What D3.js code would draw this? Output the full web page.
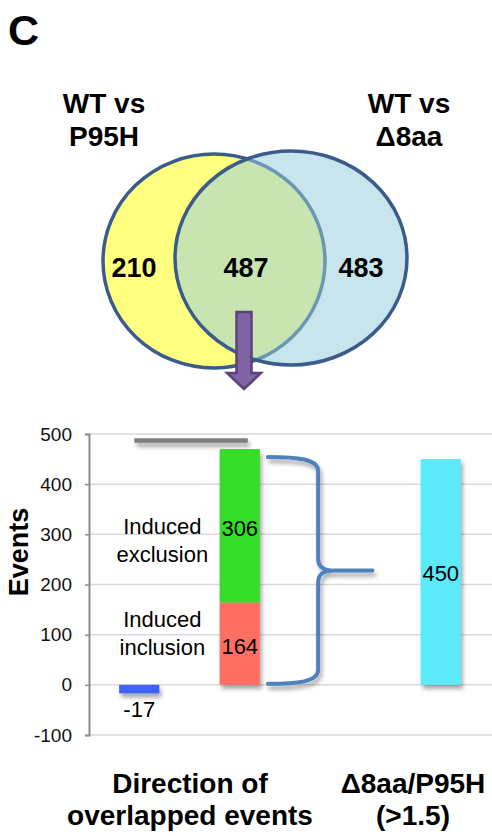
<!DOCTYPE html>
<html>
<head>
<meta charset="utf-8">
<script src="https://cdn.jsdelivr.net/npm/d3@7/dist/d3.min.js"></script>
<style>
  html, body { margin: 0; padding: 0; background: #fff; }
  svg { display: block; font-family: "Liberation Sans", Arial, Helvetica, sans-serif; }
</style>
</head>
<body>
<svg id="fig" width="492" height="836"></svg>
<script>
// ---- data ----
const vennSetNames = [["WT vs", "P95H"], ["WT vs", "\u03948aa"]];
const vennCounts = [210, 487, 483];           // P95H only, overlap, Δ8aa only
const directionValue = [-17];                  // net direction of overlapped events
const stackLabels = ["Induced inclusion", "Induced exclusion"];
const stackValues = [164, 306];
const ratioValue = [450];                      // Δ8aa/P95H (>1.5)
const overlapTotal = [487];
const yTicks = [-100, 0, 100, 200, 300, 400, 500];
const xLabels = [["Direction of", "overlapped events"], ["\u03948aa/P95H", "(>1.5)"]];

(function draw() {
const svg = d3.select("#fig");
const defs = svg.append("defs");
const shadow = defs.append("filter").attr("id", "shadow")
  .attr("filterUnits", "userSpaceOnUse")
  .attr("x", 0).attr("y", 0).attr("width", 492).attr("height", 836);
shadow.append("feDropShadow").attr("dx", 2).attr("dy", 4).attr("stdDeviation", 2)
  .attr("flood-color", "#000").attr("flood-opacity", 0.35);

// ---- panel letter ----
svg.append("text").attr("x", 8).attr("y", 45)
  .attr("font-size", 43).attr("font-weight", "bold").text("C");

// ---- Venn diagram ----
const ellipses = [
  { cx: 214, cy: 261, rx: 111, ry: 107, fill: "#FFFF80", opacity: 1 },
  { cx: 291, cy: 258, rx: 116, ry: 107, fill: "rgb(151,204,219)", opacity: 0.53 }
];
const venn = svg.append("g");
ellipses.forEach(e => {
  venn.append("ellipse")
    .attr("cx", e.cx).attr("cy", e.cy).attr("rx", e.rx).attr("ry", e.ry)
    .attr("fill", e.fill).attr("fill-opacity", e.opacity)
    .attr("stroke", "#3A5C8B").attr("stroke-width", 3.5);
});

const vennNameX = [104, 409];
vennSetNames.forEach((lines, i) => {
  const t = svg.append("text").attr("text-anchor", "middle")
    .attr("font-size", 28).attr("font-weight", "bold");
  lines.forEach((ln, j) => t.append("tspan").attr("x", vennNameX[i]).attr("y", 113 + j * 33).text(ln));
});
const vennCountX = [134, 246, 361];
svg.append("g").selectAll("text").data(vennCounts).join("text")
  .attr("x", (d, i) => vennCountX[i]).attr("y", 277)
  .attr("text-anchor", "middle").attr("font-size", 27).attr("font-weight", "bold")
  .text(d => d);

// arrow from the overlap down to the bar chart
const ax = 244;
svg.append("path")
  .attr("d", `M${ax - 7.5},312 H${ax + 7.5} V373 H${ax + 17} L${ax},389 L${ax - 17},373 H${ax - 7.5} Z`)
  .attr("fill", "#8063A5").attr("stroke", "#5B4279").attr("stroke-width", 2.5)
  .attr("stroke-linejoin", "miter");

// ---- bar chart ----
const y = d3.scaleLinear().domain([-100, 500]).range([735, 434]);
const x = d3.scaleLinear().domain([0, 4]).range([89, 491]);   // one slot per category position
const barW = x(0.4) - x(0);

// gridlines
svg.append("g").selectAll("line").data(yTicks).join("line")
  .attr("x1", x(0)).attr("x2", 492)
  .attr("y1", d => y(d)).attr("y2", d => y(d))
  .attr("stroke", "#D9D9D9").attr("stroke-width", 1.5);

// y axis
const yAxis = svg.append("g").attr("transform", `translate(${x(0)},0)`)
  .call(d3.axisLeft(y).tickValues(yTicks).tickSize(4).tickPadding(13).tickFormat(d => String(d)));
yAxis.select(".domain").attr("stroke", "#8C8C8C").attr("stroke-width", 2);
yAxis.selectAll(".tick line").attr("stroke", "#8C8C8C").attr("stroke-width", 1.5);
yAxis.selectAll(".tick text").attr("font-size", 19).attr("fill", "#111")
  .attr("font-family", "'Liberation Sans', Arial, sans-serif");

svg.append("text").attr("transform", "translate(28,552) rotate(-90)")
  .attr("text-anchor", "middle").attr("font-size", 27).attr("font-weight", "bold")
  .text("Events");

// overlap total marker
svg.append("rect").datum(overlapTotal[0])
  .attr("x", x(0.45)).attr("width", x(1.58) - x(0.45))
  .attr("y", d => y(d) - 2.25).attr("height", 4.5)
  .attr("fill", "#7F7F7F").attr("filter", "url(#shadow)");

// net direction bar
svg.append("g").selectAll("rect").data(directionValue).join("rect")
  .attr("x", x(0.5) - barW / 2).attr("width", barW)
  .attr("y", d => y(Math.max(0, d))).attr("height", d => Math.abs(y(d) - y(0)))
  .attr("fill", "#3E64F5").attr("filter", "url(#shadow)");
svg.append("g").selectAll("text").data(directionValue).join("text")
  .attr("x", x(0.5)).attr("y", d => y(d) + 24)
  .attr("text-anchor", "middle").attr("font-size", 22).text(d => d);

// stacked inclusion / exclusion bar
const stackColors = ["#FF6F63", "#35DC2A"];
const stackData = stackValues.map((v, i) => ({
  label: stackLabels[i], value: v,
  y0: d3.sum(stackValues.slice(0, i)), y1: d3.sum(stackValues.slice(0, i + 1))
}));
const stackG = svg.append("g").attr("filter", "url(#shadow)");
stackG.selectAll("rect").data(stackData).join("rect")
  .attr("x", x(1.5) - barW / 2).attr("width", barW)
  .attr("y", d => y(d.y1)).attr("height", d => y(d.y0) - y(d.y1))
  .attr("fill", (d, i) => stackColors[i]);
svg.append("g").selectAll("text").data(stackData).join("text")
  .attr("x", x(1.5)).attr("y", d => y((d.y0 + d.y1) / 2) + 10)
  .attr("text-anchor", "middle").attr("font-size", 22).text(d => d.value);

// category names beside the stack (first-line baseline, in axis units)
const nameBaseline = [115, 300];
const nameG = svg.append("g");
stackData.forEach((d, i) => {
  const words = d.label.split(" ");
  const t = nameG.append("text").attr("text-anchor", "middle").attr("font-size", 22);
  words.forEach((w, j) => t.append("tspan").attr("x", x(0.73)).attr("y", y(nameBaseline[i]) + j * 28).text(w));
});

// brace grouping the stack
const total = d3.sum(stackValues);
const bL = x(1.78), bS = x(2.28), bT = x(2.82);
const yTop = y(total) + 8, yBot = y(0) - 1, yMid = (yTop + yBot) / 2;
svg.append("path")
  .attr("d",
    `M${bL},${yTop} C${bL + 30},${yTop} ${bS},${yTop + 2} ${bS},${yTop + 14} ` +
    `L${bS},${yMid - 12} C${bS},${yMid - 3} ${bS + 6},${yMid} ${bS + 16},${yMid} L${bT},${yMid} ` +
    `M${bS + 16},${yMid} C${bS + 6},${yMid} ${bS},${yMid + 3} ${bS},${yMid + 12} ` +
    `L${bS},${yBot - 14} C${bS},${yBot - 2} ${bL + 30},${yBot} ${bL},${yBot}`)
  .attr("fill", "none").attr("stroke", "#4F81BD").attr("stroke-width", 4)
  .attr("stroke-linecap", "round").attr("filter", "url(#shadow)");

// ratio bar
svg.append("g").selectAll("rect").data(ratioValue).join("rect")
  .attr("x", x(3.5) - barW / 2).attr("width", barW)
  .attr("y", d => y(d)).attr("height", d => y(0) - y(d))
  .attr("fill", "#5CE9F8").attr("filter", "url(#shadow)");
svg.append("g").selectAll("text").data(ratioValue).join("text")
  .attr("x", x(3.5)).attr("y", d => y(d / 2) + 9)
  .attr("text-anchor", "middle").attr("font-size", 22).text(d => d);

// category labels under the chart
const xLabelX = [190, 413];
xLabels.forEach((lines, i) => {
  const t = svg.append("text").attr("text-anchor", "middle")
    .attr("font-size", 28).attr("font-weight", "bold");
  lines.forEach((ln, j) => t.append("tspan").attr("x", xLabelX[i]).attr("y", 793 + j * 32).text(ln));
});
})();
</script>
</body>
</html>
